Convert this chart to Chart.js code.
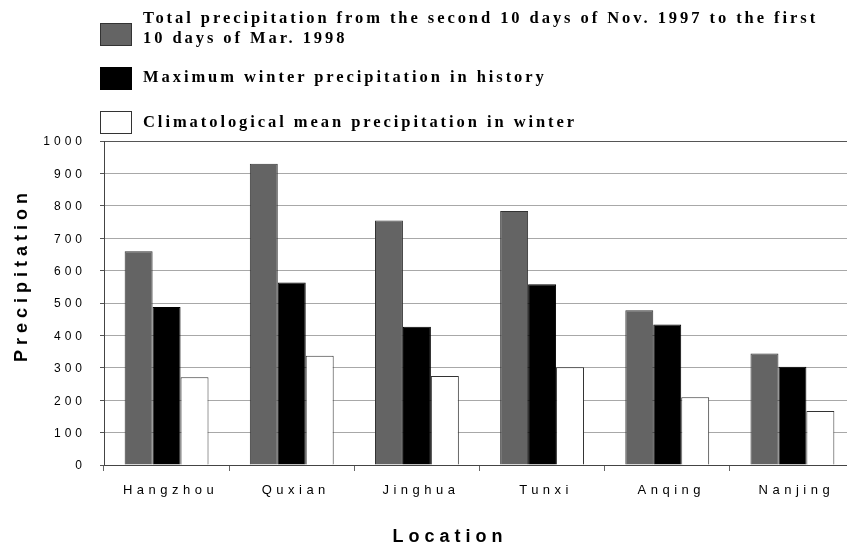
<!DOCTYPE html>
<html><head><meta charset="utf-8">
<script src="https://cdn.jsdelivr.net/npm/chart.js@4"></script>
<style>
html,body{margin:0;padding:0;background:#fff;overflow:hidden;width:847px;height:545px;}
#wrap{position:absolute;left:0;top:0;width:860px;height:545px;}
#legend{position:absolute;left:0;top:0;width:847px;height:140px;}
.lg-box{position:absolute;left:100px;width:32px;height:23px;box-sizing:border-box;border:1px solid #333;}
.lg-text{position:absolute;left:143px;font-family:'Liberation Serif','Times New Roman',serif;font-weight:bold;font-size:16.5px;line-height:20px;color:#000;white-space:nowrap;}
</style></head>
<body>
<div id="wrap"><canvas id="c" width="860" height="545"></canvas></div>
<div id="legend"></div>
<script>
// ---- data ----
const categories = ['Hangzhou', 'Quxian', 'Jinghua', 'Tunxi', 'Anqing', 'Nanjing'];
const seriesNames = [
  ['Total precipitation from the second 10 days of Nov. 1997 to the first', '10 days of Mar. 1998'],
  ['Maximum winter precipitation in history'],
  ['Climatological mean precipitation in winter']
];
const totalPrecip = [660, 930, 755, 784, 478, 344];
const maxWinterPrecip = [488, 563, 427, 558, 434, 303];
const meanWinterPrecip = [271, 337, 275, 302, 209, 167];
const yTickValues = [0, 100, 200, 300, 400, 500, 600, 700, 800, 900, 1000];
const xTitle = 'Location';
const yTitle = 'Precipitation';

// ---- styles ----
const fills = ['#646464', '#000000', '#ffffff'];
const borders = ['#333333', '#000000', '#333333'];
const seriesValues = [totalPrecip, maxWinterPrecip, meanWinterPrecip];

// ---- HTML legend ----
const legendEl = document.getElementById('legend');
const boxTops = [23, 67, 111];
const textTops = [8, 67, 112];
const textEls = [];
seriesNames.forEach((lines, i) => {
  const b = document.createElement('div');
  b.className = 'lg-box';
  b.style.top = boxTops[i] + 'px';
  b.style.background = fills[i];
  b.style.borderColor = borders[i];
  legendEl.appendChild(b);
  const t = document.createElement('div');
  t.className = 'lg-text';
  t.style.top = textTops[i] + 'px';
  lines.forEach((ln) => {
    const s = document.createElement('div');
    s.textContent = ln;
    t.appendChild(s);
  });
  legendEl.appendChild(t);
  textEls.push(t);
});
// fit letter spacing so that first line spans the same width as in the reference
(function(){
  const first = textEls[0].firstChild;
  const span = document.createElement('span');
  span.textContent = first.textContent;
  first.textContent = '';
  first.appendChild(span);
  const natural = span.getBoundingClientRect().width;
  const n = span.textContent.length;
  const sp = Math.max(0, (672 - natural) / (n - 1));
  textEls.forEach(t => t.style.letterSpacing = sp.toFixed(2) + 'px');
})();

// ---- letter spacing for canvas texts ----
const spacingPlugin = {
  id: 'spacing',
  beforeDraw(chart) {
    const cfg = {
      x: {labels: 4.5, title: 5, ldx: 4, ldy: 0, tdx: -29.5, tdy: 3},
      y: {labels: 4, title: 5, ldx: 0, ldy: 1, tdx: 0, tdy: -28}
    };
    for (const id of ['x', 'y']) {
      const s = chart.scales[id];
      if (!s || s._spWrapped) continue;
      s._spWrapped = true;
      const c = cfg[id];
      const dl = s.drawLabels, dt = s.drawTitle;
      s.drawLabels = function(a) {
        const ctx = this.ctx; ctx.save();
        ctx.letterSpacing = c.labels + 'px';
        ctx.translate(c.ldx, c.ldy);
        dl.call(this, a); ctx.restore();
      };
      s.drawTitle = function() {
        const ctx = this.ctx; ctx.save();
        ctx.letterSpacing = c.title + 'px';
        ctx.translate(c.tdx, c.tdy);
        dt.call(this); ctx.restore();
      };
    }
  }
};

new Chart(document.getElementById('c'), {
  type: 'bar',
  data: {
    labels: categories,
    datasets: seriesValues.map((vals, i) => ({
      label: seriesNames[i].join(' '),
      data: vals,
      backgroundColor: fills[i],
      borderColor: borders[i],
      borderWidth: 1,
      categoryPercentage: 0.67,
      barPercentage: 1.0
    }))
  },
  options: {
    responsive: false,
    animation: false,
    layout: {padding: {left: 0, top: 141, right: 5, bottom: 0}},
    plugins: {legend: {display: false}, tooltip: {enabled: false}},
    scales: {
      x: {
        offset: true,
        grid: {display: true, drawOnChartArea: false, drawTicks: true, tickLength: 6, tickColor: '#666', offset: true},
        border: {display: true, color: '#444', width: 1},
        ticks: {color: '#000', font: {family: 'Liberation Sans', size: 13}, padding: 12, maxRotation: 0, autoSkip: false},
        title: {display: true, text: xTitle, color: '#000', font: {family: 'Liberation Sans', size: 18, weight: 'bold'}, padding: {top: 0, bottom: 0}},
        afterFit: s => { s.height = 80; }
      },
      y: {
        min: 0, max: 1000,
        afterBuildTicks: s => { s.ticks = yTickValues.map(v => ({value: v})); },
        grid: {
          color: c => (c.tick && (c.tick.value === 1000 || c.tick.value === 0)) ? '#555' : '#a8a8a8',
          lineWidth: 1, tickLength: 4, tickColor: '#555', drawTicks: true
        },
        border: {display: true, color: '#444', width: 1},
        ticks: {color: '#000', font: {family: 'Liberation Sans', size: 12}, padding: 14, callback: v => String(v)},
        title: {display: true, text: yTitle, color: '#000', font: {family: 'Liberation Sans', size: 18, weight: 'bold'}, padding: {top: 11, bottom: 0}},
        afterFit: s => { s.width = 104; }
      }
    }
  },
  plugins: [spacingPlugin]
});
</script>
</body></html>
